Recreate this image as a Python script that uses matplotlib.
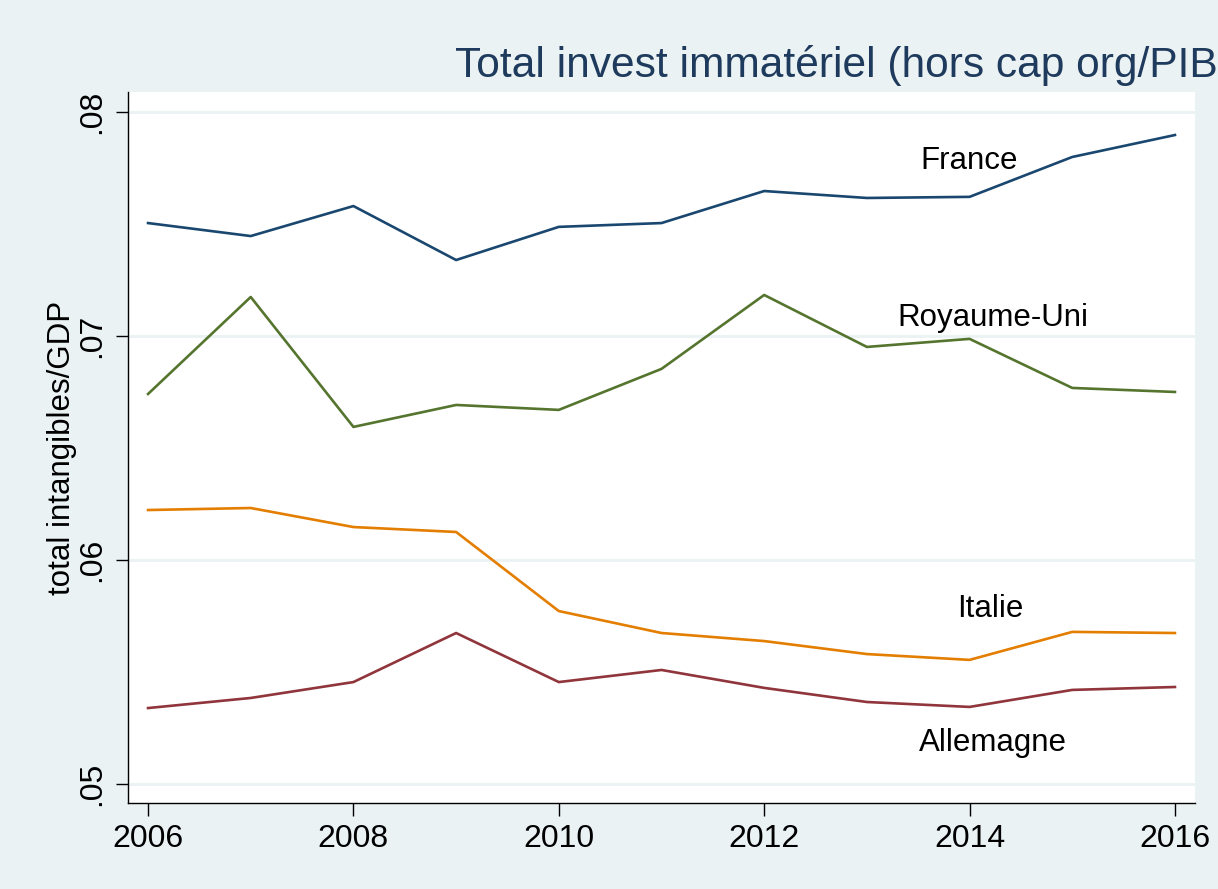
import matplotlib.pyplot as plt

# Data
years = [2006, 2007, 2008, 2009, 2010, 2011, 2012, 2013, 2014, 2015, 2016]
france = [0.07504, 0.07446, 0.07580, 0.07339, 0.07487, 0.07504, 0.07647, 0.07616, 0.07621, 0.07799, 0.07897]
uk = [0.06741, 0.07174, 0.06594, 0.06692, 0.06670, 0.06853, 0.07183, 0.06951, 0.06987, 0.06768, 0.06750]
italy = [0.06223, 0.06232, 0.06147, 0.06125, 0.05772, 0.05674, 0.05638, 0.05580, 0.05554, 0.05679, 0.05674]
germany = [0.05339, 0.05384, 0.05455, 0.05674, 0.05455, 0.05509, 0.05429, 0.05366, 0.05344, 0.05420, 0.05433]

names = ["France", "Royaume-Uni", "Italie", "Allemagne"]
label_x = [2014.0, 2014.23, 2014.2, 2014.23]
label_y = [0.07781, 0.07080, 0.05781, 0.05183]

yticks = [0.05, 0.06, 0.07, 0.08]
ytick_labels = [".05", ".06", ".07", ".08"]
xticks = [2006, 2008, 2010, 2012, 2014, 2016]

colors = ["#1a476f", "#55752f", "#e37e00", "#90353b"]
bg = "#eaf2f3"

plt.rcParams['font.family'] = ['Liberation Sans', 'DejaVu Sans']

fig = plt.figure(figsize=(12.18, 8.89), dpi=100, facecolor=bg)
ax = fig.add_axes([0.1051, 0.0967, 0.876, 0.7998])
ax.set_facecolor("white")

for yt in yticks:
    ax.axhline(yt, color=bg, lw=2, zorder=0)

series = [france, uk, italy, germany]
for s, c in zip(series, colors):
    ax.plot(years, s, color=c, lw=1.9)

# country labels placed in data space, as in the original
for n, lx, ly in zip(names, label_x, label_y):
    ax.text(lx, ly, n, fontsize=22.5, ha="center", va="center")

ax.set_xlim(2005.805, 2016.195)
ax.set_ylim(0.04915, 0.08089)
ax.set_xticks(xticks)
ax.set_xticklabels([str(x) for x in xticks], fontsize=23)
ax.set_yticks(yticks)
ax.set_yticklabels(ytick_labels, fontsize=23, rotation=90, va="center")
ax.tick_params(length=9, width=1, pad=6)
ax.set_ylabel("total intangibles/GDP", fontsize=22.5, labelpad=0)

for sp in ["top", "right"]:
    ax.spines[sp].set_visible(False)
for sp in ["left", "bottom"]:
    ax.spines[sp].set_linewidth(1)

# title runs past the right edge in the original too
fig.text(455 / 1218, 1 - 66 / 889, "Total invest immatériel (hors cap org/PIB)",
         fontsize=30.6, color="#1e3a5c", ha="left", va="center")

fig.savefig("out.png", dpi=100, facecolor=bg)
